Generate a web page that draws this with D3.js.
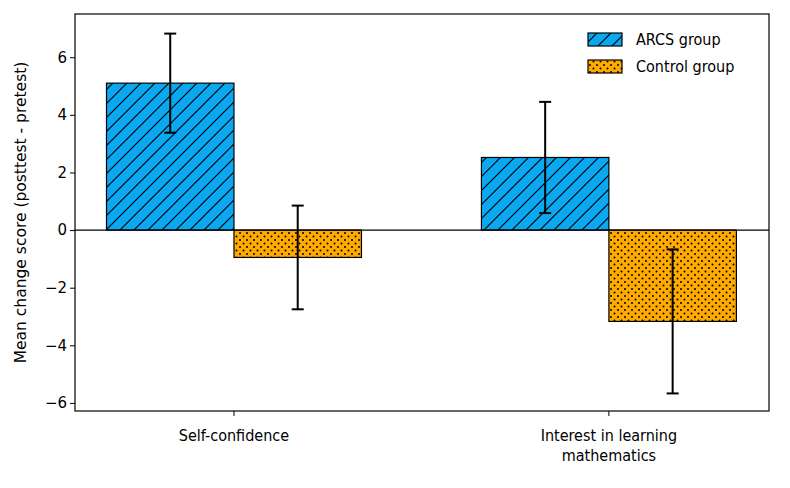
<!DOCTYPE html>
<html><head><meta charset="utf-8">
<script src="https://cdn.jsdelivr.net/npm/d3@7"></script>
<style>body{margin:0;background:#fff}</style>
</head><body>
<svg id="chart" width="790" height="488"></svg>
<script>
// chart data
const categories = ["Self-confidence", "Interest in learning\nmathematics"];
const groups = ["ARCS group", "Control group"];
const means = [[5.1, -0.95], [2.52, -3.17]];
const errs = [[1.72, 1.8], [1.93, 2.5]];
const yTicks = [-6, -4, -2, 0, 2, 4, 6];

const svg = d3.select("#chart");
const padL = 75, padR = 769, padT = 14, padB = 411;

const x = d3.scaleLinear().domain([-0.424, 1.427]).range([padL, padR]);
const y = d3.scaleLinear().domain([-6.28, 7.5]).range([padB, padT]);
const barW = 0.34;

const defs = svg.append("defs");
const hatch = defs.append("pattern").attr("id", "hatch").attr("patternUnits", "userSpaceOnUse")
    .attr("width", 14).attr("height", 14);
hatch.append("rect").attr("width", 14).attr("height", 14).attr("fill", "#0aa8f0");
hatch.append("path").attr("d", "M-1,15 L15,-1 M-8,8 L8,-8 M6,22 L22,6")
    .attr("stroke", "black").attr("stroke-width", 1.2);
const dots = defs.append("pattern").attr("id", "dots").attr("patternUnits", "userSpaceOnUse")
    .attr("width", 7).attr("height", 7);
dots.append("rect").attr("width", 7).attr("height", 7).attr("fill", "#ffaa00");
dots.append("circle").attr("cx", 2).attr("cy", 2).attr("r", 1).attr("fill", "black");
dots.append("circle").attr("cx", 5.5).attr("cy", 5.5).attr("r", 1).attr("fill", "black");
const fills = ["url(#hatch)", "url(#dots)"];

categories.forEach((c, i) => {
    groups.forEach((g, j) => {
        const x0 = i + (j === 0 ? -barW : 0);
        const v = means[i][j];
        svg.append("rect")
            .attr("x", x(x0)).attr("width", x(x0 + barW) - x(x0))
            .attr("y", y(Math.max(0, v))).attr("height", Math.abs(y(v) - y(0)))
            .attr("fill", fills[j]).attr("stroke", "black").attr("stroke-width", 1.2);
    });
});

// zero line
svg.append("line").attr("x1", padL).attr("x2", padR).attr("y1", y(0)).attr("y2", y(0))
    .attr("stroke", "black").attr("stroke-width", 1.2);

// error bars
categories.forEach((c, i) => {
    groups.forEach((g, j) => {
        const cx = x(i + (j === 0 ? -barW / 2 : barW / 2));
        const lo = y(means[i][j] - errs[i][j]), hi = y(means[i][j] + errs[i][j]);
        svg.append("line").attr("x1", cx).attr("x2", cx).attr("y1", lo).attr("y2", hi)
            .attr("stroke", "black").attr("stroke-width", 2);
        [lo, hi].forEach(yy => svg.append("line").attr("x1", cx - 6).attr("x2", cx + 6)
            .attr("y1", yy).attr("y2", yy).attr("stroke", "black").attr("stroke-width", 2));
    });
});

// frame
svg.append("rect").attr("x", padL).attr("y", padT).attr("width", padR - padL).attr("height", padB - padT)
    .attr("fill", "none").attr("stroke", "black").attr("stroke-width", 1.2);

// y axis
const yAxis = svg.append("g").attr("transform", `translate(${padL},0)`)
    .call(d3.axisLeft(y).tickValues(yTicks).tickSize(5).tickFormat(d => d < 0 ? "\u2212" + (-d) : d));
yAxis.select(".domain").remove();
yAxis.selectAll("text").attr("font-family", "DejaVu Sans").attr("font-size", 15).attr("fill", "black");
yAxis.selectAll("line").attr("stroke", "black");

svg.append("text").attr("transform", `translate(26,${(padT + padB) / 2}) rotate(-90)`)
    .attr("text-anchor", "middle").attr("font-family", "DejaVu Sans").attr("font-size", 15.5)
    .text("Mean change score (posttest - pretest)");

// x axis
categories.forEach((c, i) => {
    svg.append("line").attr("x1", x(i)).attr("x2", x(i)).attr("y1", padB).attr("y2", padB + 5).attr("stroke", "black");
    const t = svg.append("text").attr("text-anchor", "middle").attr("font-family", "DejaVu Sans Condensed")
        .attr("font-size", 16);
    c.split("\n").forEach((line, k) => t.append("tspan").attr("x", x(i)).attr("y", padB + 30 + k * 20).text(line));
});

// legend
groups.forEach((g, j) => {
    const ly = 33 + j * 27;
    svg.append("rect").attr("x", 588).attr("y", ly).attr("width", 34).attr("height", 13)
        .attr("fill", fills[j]).attr("stroke", "black").attr("stroke-width", 1.2);
    svg.append("text").attr("x", 636).attr("y", ly + 12).attr("font-family", "DejaVu Sans Condensed")
        .attr("font-size", 16).text(g);
});
</script>
</body></html>
